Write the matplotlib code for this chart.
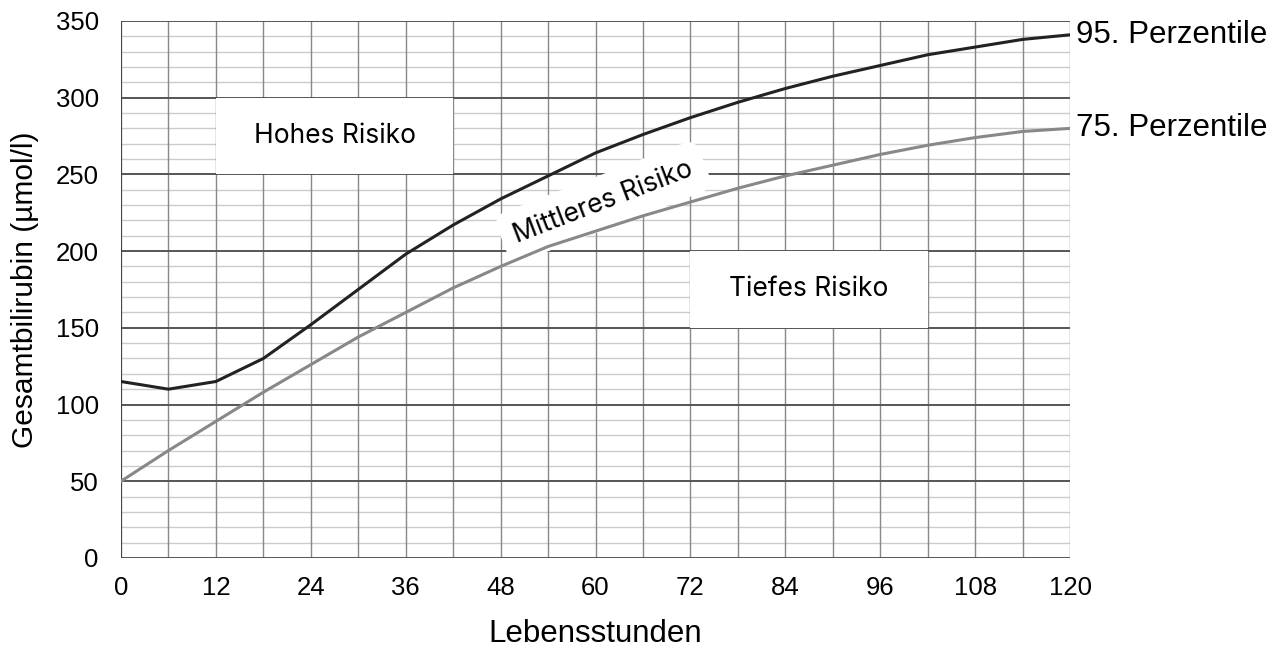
import matplotlib
matplotlib.use("Agg")
import matplotlib.pyplot as plt
from matplotlib.patches import Rectangle
import numpy as np

hours = [0, 6, 12, 18, 24, 30, 36, 42, 48, 54, 60, 66, 72, 78, 84, 90, 96, 102, 108, 114, 120]
p95 = [115, 110, 115, 130, 152, 175, 198, 217, 234, 249, 264, 276, 287, 297, 306, 314, 321, 328, 333, 338, 341]
p75 = [50, 70, 89, 108, 126, 144, 160, 176, 190, 203, 213, 223, 232, 241, 249, 256, 263, 269, 274, 278, 280]
xticks = list(range(0, 121, 12))
yticks = list(range(0, 351, 50))
series_labels = ["95. Perzentile", "75. Perzentile"]
zone_labels = ["Hohes Risiko", "Mittleres Risiko", "Tiefes Risiko"]

plt.rcParams['font.family'] = ['Liberation Sans', 'DejaVu Sans']

fig = plt.figure(figsize=(12.8, 6.48), dpi=100)
ax = fig.add_axes([0.0945, 0.139, 0.7415, 0.8286])
ax.set_xlim(0, 120)
ax.set_ylim(0, 350)

# grid
for y in range(0, 351, 10):
    if y % 50 == 0:
        ax.axhline(y, color='#555555', lw=1.4, zorder=1)
    else:
        ax.axhline(y, color='#cccccc', lw=1.0, zorder=0.5)
for x in range(0, 121, 6):
    ax.axvline(x, color='#888888', lw=1.0, zorder=0.8)

# white label boxes
ax.add_patch(Rectangle((12, 250), 30, 50, facecolor='white', edgecolor='none', zorder=2))
ax.add_patch(Rectangle((72, 150), 30, 50, facecolor='white', edgecolor='none', zorder=2))
ax.text(27, 275, zone_labels[0], ha='center', va='center', fontsize=19, family=['Inter', 'DejaVu Sans'], zorder=3)
ax.text(87, 175, zone_labels[2], ha='center', va='center', fontsize=19, family=['Inter', 'DejaVu Sans'], zorder=3)

ax.text(61.0, 232, zone_labels[1], ha='center', va='center', rotation=21, fontsize=19,
        family=['Inter', 'DejaVu Sans'], zorder=3,
        bbox=dict(boxstyle='round,pad=0.5', facecolor='white', edgecolor='none'))

ax.plot(hours, p75, color='#888888', lw=2.2, zorder=4)
ax.plot(hours, p95, color='#222222', lw=2.2, zorder=4)

ax.text(120.7, p95[-1], series_labels[0], ha='left', va='center', fontsize=22.5, clip_on=False)
ax.text(120.7, p75[-1], series_labels[1], ha='left', va='center', fontsize=22.5, clip_on=False)

ax.set_xticks(xticks)
ax.set_yticks(yticks)
ax.tick_params(axis='x', length=0, labelsize=18.5, pad=13)
ax.tick_params(axis='y', length=0, labelsize=18.5, pad=16)
for s in ax.spines.values():
    s.set_visible(False)
ax.axvline(0, color='#444444', lw=1.4, zorder=1)

ax.set_xlabel("Lebensstunden", fontsize=22.5, labelpad=14)
ax.set_ylabel("Gesamtbilirubin (µmol/l)", fontsize=21.5, labelpad=12)

fig.savefig("out.png", dpi=100)
